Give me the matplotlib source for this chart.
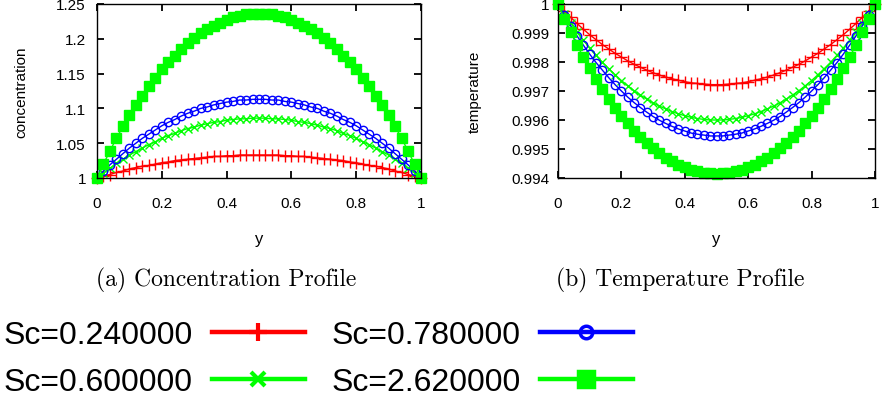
import numpy as np
import matplotlib
matplotlib.use('Agg')
import matplotlib.pyplot as plt
from matplotlib.lines import Line2D

plt.rcParams['font.family'] = ['Liberation Sans', 'DejaVu Sans']

# y positions along the channel (51 nodes)
y_vals = np.linspace(0, 1, 51)

sc_labels = ['Sc=0.240000', 'Sc=0.600000', 'Sc=0.780000', 'Sc=2.620000']

conc_024 = [1.000, 1.003, 1.005, 1.008, 1.010, 1.013, 1.015, 1.017, 1.018, 1.020, 1.022, 1.023, 1.025,
            1.026, 1.027, 1.028, 1.029, 1.030, 1.031, 1.031, 1.032, 1.032, 1.033, 1.033, 1.033, 1.033,
            1.033, 1.033, 1.033, 1.032, 1.032, 1.031, 1.031, 1.030, 1.029, 1.028, 1.027, 1.026, 1.025,
            1.023, 1.022, 1.020, 1.018, 1.017, 1.015, 1.013, 1.010, 1.008, 1.005, 1.003, 1.000]
conc_060 = [1.000, 1.007, 1.014, 1.021, 1.027, 1.033, 1.038, 1.043, 1.048, 1.052, 1.057, 1.061, 1.064,
            1.068, 1.071, 1.073, 1.076, 1.078, 1.080, 1.081, 1.083, 1.084, 1.085, 1.085, 1.086, 1.086,
            1.086, 1.085, 1.085, 1.084, 1.083, 1.081, 1.080, 1.078, 1.076, 1.073, 1.071, 1.068, 1.064,
            1.061, 1.057, 1.052, 1.048, 1.043, 1.038, 1.033, 1.027, 1.021, 1.014, 1.007, 1.000]
conc_078 = [1.000, 1.010, 1.019, 1.027, 1.035, 1.043, 1.050, 1.057, 1.063, 1.069, 1.075, 1.080, 1.084,
            1.089, 1.093, 1.096, 1.100, 1.102, 1.105, 1.107, 1.109, 1.110, 1.112, 1.112, 1.113, 1.113,
            1.113, 1.112, 1.112, 1.110, 1.109, 1.107, 1.105, 1.102, 1.100, 1.096, 1.093, 1.089, 1.084,
            1.080, 1.075, 1.069, 1.063, 1.057, 1.050, 1.043, 1.035, 1.027, 1.019, 1.010, 1.000]
conc_262 = [1.000, 1.020, 1.039, 1.057, 1.074, 1.090, 1.105, 1.118, 1.132, 1.144, 1.156, 1.166, 1.176,
            1.185, 1.194, 1.201, 1.208, 1.214, 1.219, 1.223, 1.227, 1.231, 1.233, 1.235, 1.236, 1.236,
            1.236, 1.235, 1.233, 1.231, 1.227, 1.223, 1.219, 1.214, 1.208, 1.201, 1.194, 1.185, 1.176,
            1.166, 1.156, 1.144, 1.132, 1.118, 1.105, 1.090, 1.074, 1.057, 1.039, 1.020, 1.000]

temp_024 = [1.00000, 0.99976, 0.99954, 0.99933, 0.99913, 0.99894, 0.99877, 0.99860, 0.99845, 0.99830,
            0.99817, 0.99804, 0.99792, 0.99782, 0.99772, 0.99763, 0.99755, 0.99748, 0.99742, 0.99737,
            0.99732, 0.99728, 0.99726, 0.99724, 0.99722, 0.99722, 0.99722, 0.99724, 0.99726, 0.99728,
            0.99732, 0.99737, 0.99742, 0.99748, 0.99755, 0.99763, 0.99772, 0.99782, 0.99792, 0.99804,
            0.99817, 0.99830, 0.99845, 0.99860, 0.99877, 0.99894, 0.99913, 0.99933, 0.99954, 0.99976, 1.00000]
temp_060 = [1.00000, 0.99966, 0.99934, 0.99903, 0.99875, 0.99848, 0.99823, 0.99799, 0.99777, 0.99756,
            0.99736, 0.99718, 0.99701, 0.99686, 0.99672, 0.99659, 0.99648, 0.99638, 0.99629, 0.99621,
            0.99615, 0.99609, 0.99605, 0.99602, 0.99600, 0.99600, 0.99600, 0.99602, 0.99605, 0.99609,
            0.99615, 0.99621, 0.99629, 0.99638, 0.99648, 0.99659, 0.99672, 0.99686, 0.99701, 0.99718,
            0.99736, 0.99756, 0.99777, 0.99799, 0.99823, 0.99848, 0.99875, 0.99903, 0.99934, 0.99966, 1.00000]
temp_078 = [1.00000, 0.99961, 0.99925, 0.99890, 0.99858, 0.99827, 0.99798, 0.99772, 0.99746, 0.99722,
            0.99700, 0.99679, 0.99660, 0.99643, 0.99627, 0.99612, 0.99599, 0.99588, 0.99578, 0.99569,
            0.99562, 0.99555, 0.99551, 0.99548, 0.99545, 0.99545, 0.99545, 0.99548, 0.99551, 0.99555,
            0.99562, 0.99569, 0.99578, 0.99588, 0.99599, 0.99612, 0.99627, 0.99643, 0.99660, 0.99679,
            0.99700, 0.99722, 0.99746, 0.99772, 0.99798, 0.99827, 0.99858, 0.99890, 0.99925, 0.99961, 1.00000]
temp_262 = [1.00000, 0.99950, 0.99904, 0.99858, 0.99817, 0.99778, 0.99741, 0.99706, 0.99674, 0.99643,
            0.99614, 0.99588, 0.99563, 0.99541, 0.99520, 0.99502, 0.99485, 0.99470, 0.99457, 0.99446,
            0.99437, 0.99428, 0.99423, 0.99418, 0.99416, 0.99415, 0.99416, 0.99418, 0.99423, 0.99428,
            0.99437, 0.99446, 0.99457, 0.99470, 0.99485, 0.99502, 0.99520, 0.99541, 0.99563, 0.99588,
            0.99614, 0.99643, 0.99674, 0.99706, 0.99741, 0.99778, 0.99817, 0.99858, 0.99904, 0.99950, 1.00000]

x_ticks = [0, 0.2, 0.4, 0.6, 0.8, 1]
x_ticklabels = ['0', '0.2', '0.4', '0.6', '0.8', '1']
conc_ticks = [1, 1.05, 1.1, 1.15, 1.2, 1.25]
conc_ticklabels = ['1', '1.05', '1.1', '1.15', '1.2', '1.25']
temp_ticks = [0.994, 0.995, 0.996, 0.997, 0.998, 0.999, 1]
temp_ticklabels = ['0.994', '0.995', '0.996', '0.997', '0.998', '0.999', '1']

# gnuplot-like styles: colour, marker, size, filled?
styles = [
    ('#ff0000', '+', 8, True),
    ('#00ff00', 'x', 5.5, True),
    ('#0000ff', 'o', 6, False),
    ('#00ff00', 's', 7.5, True),
]

fig = plt.figure(figsize=(8.83, 4.06), dpi=100)
ax1 = fig.add_axes([97/883, 1-179/406, 324/883, 174/406])
ax2 = fig.add_axes([558/883, 1-179/406, 317/883, 174/406])


def draw_panel(ax, series, ticks, ticklabels, ylabel, ypad):
    for vals, (col, mk, ms, filled) in zip(series, styles):
        ax.plot(y_vals, vals, color=col, marker=mk, markersize=ms, linewidth=1.0,
                markeredgewidth=1.0, markerfacecolor=col if filled else 'none',
                clip_on=False)
    ax.set_xlim(0, 1)
    ax.set_ylim(ticks[0], ticks[-1])
    ax.set_xticks(x_ticks)
    ax.set_xticklabels(x_ticklabels)
    ax.set_yticks(ticks)
    ax.set_yticklabels(ticklabels)
    ax.tick_params(direction='in', length=5, width=1.3, top=True, right=True, labelsize=11)
    ax.tick_params(axis='x', pad=13)
    ax.tick_params(axis='y', pad=ypad)
    for sp in ax.spines.values():
        sp.set_linewidth(1.0)
    ax.set_xlabel('y', fontsize=12, va='center')
    ax.xaxis.set_label_coords(0.5, -0.35)
    ax.set_ylabel(ylabel, fontsize=11, va='center')


draw_panel(ax1, [conc_024, conc_060, conc_078, conc_262], conc_ticks, conc_ticklabels,
           'concentration', 8)
ax1.yaxis.set_label_coords(-0.232, 0.5)
draw_panel(ax2, [temp_024, temp_060, temp_078, temp_262], temp_ticks, temp_ticklabels,
           'temperature', 6)
ax2.yaxis.set_label_coords(-0.262, 0.5)

fig.text(226/883, 1-280/406, '(a) Concentration Profile', family='cmr10', fontsize=17,
         ha='center', va='center')
fig.text(680/883, 1-280/406, '(b) Temperature Profile', family='cmr10', fontsize=17,
         ha='center', va='center')

# legend, handle after the label like gnuplot's key
leg_sizes = {'+': 13, 'x': 10, 'o': 9, 's': 12}
handles = [Line2D([], [], color=c, marker=m, markersize=leg_sizes[m], linewidth=3.2,
                  markeredgewidth=3 if m in '+x' else 2.5, markerfacecolor=c if f else 'none')
           for c, m, ms, f in styles]
fig.legend(handles, sc_labels, ncol=2, loc='center left', bbox_to_anchor=(0.004, 1-359.5/406),
           frameon=False, markerfirst=False, fontsize=23, handlelength=2.9, handletextpad=0.6,
           columnspacing=0.85, labelspacing=0.52, borderpad=0, borderaxespad=0)

fig.savefig('out.png', dpi=100)
